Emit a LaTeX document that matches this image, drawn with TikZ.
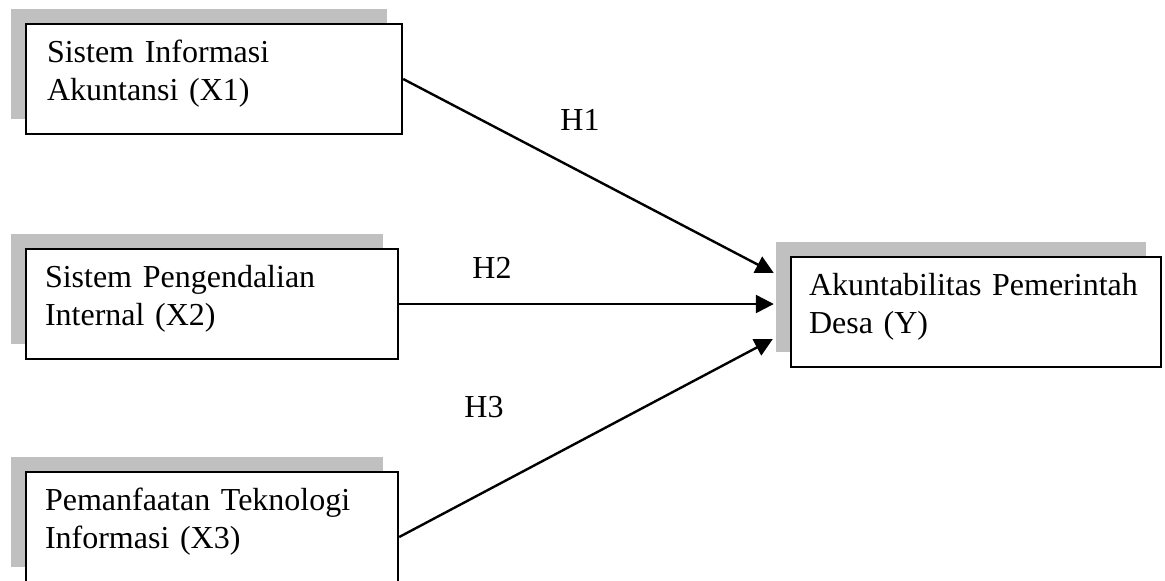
\documentclass[tikz,border=0pt]{standalone}
\usepackage{fontspec}
\setmainfont{Liberation Serif}
\usetikzlibrary{calc}
\usetikzlibrary{shadows}
\usetikzlibrary{arrows.meta}
\definecolor{color_box_shadow}{HTML}{C0C0C0}
\definecolor{color_box_line}{HTML}{000000}
\def\boxlinewidth{1.2pt}
\def\boxshadowshift{7.5pt}
\def\boxtextsize{\fontsize{16pt}{19pt}\selectfont}
\def\boxtextpad{\endgraf\vspace{5pt}}

\begin{document}
\begin{tikzpicture}[x=0.5pt,y=-0.5pt,
        varbox/.style={draw=color_box_line, line width=\boxlinewidth, fill=white,
            minimum height=55pt, inner xsep=9pt, text width=167pt, align=left,
            font=\boxtextsize, execute at end node=\boxtextpad,
            drop shadow={shadow xshift=-\boxshadowshift, shadow yshift=\boxshadowshift,
                opacity=1, fill=color_box_shadow}},
        hyplabel/.style={font=\boxtextsize, inner sep=0pt},
        hyparrow/.style={line width=1.2pt, -{Triangle[length=9pt,width=9pt]}}]
        \useasboundingbox (0,0) rectangle (1165,580);
        % the variables
        \node[varbox, minimum width=188pt] (x1) at (214,79) {Sistem Informasi\\Akuntansi (X1)};
        \node[varbox, minimum width=186pt] (x2) at (212,304) {Sistem Pengendalian\\Internal (X2)};
        \node[varbox, minimum width=186pt] (x3) at (212,527) {Pemanfaatan Teknologi\\Informasi (X3)};
        \node[varbox, minimum width=184pt] (y) at (976,312) {Akuntabilitas Pemerintah\\Desa (Y)};
        % the hypotheses
        \coordinate (h1end) at ($(y.west)+(-16,-39)$);
        \coordinate (h3end) at ($(y.west)+(-17,27)$);
        \draw[hyparrow] (x1.east) -- (h1end);
        \draw[hyparrow] (x2.east) -- (x2.east -| h1end);
        \draw[hyparrow] ($(x3.east)+(0,10)$) -- (h3end);
        \node[hyplabel] (h1) at (580,120) {H1};
        \node[hyplabel] (h2) at (492,268) {H2};
        \node[hyplabel] (h3) at (484,407) {H3};
    \end{tikzpicture}
\end{document}
